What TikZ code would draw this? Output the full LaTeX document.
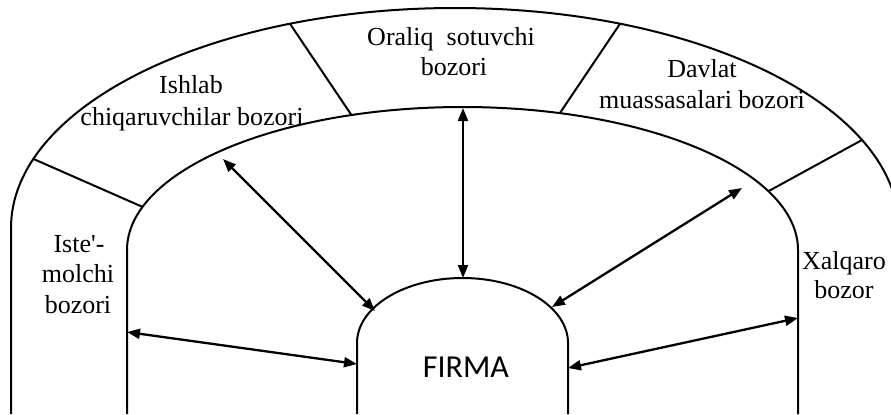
\documentclass[tikz,border=0pt]{standalone}
\usepackage{fontspec}
\setmainfont{Liberation Serif}
\newfontfamily\firmafont{Carlito}
\usetikzlibrary{arrows.meta}
\begin{document}
\begin{tikzpicture}[x=1bp,y=-1bp,
  ring/.style={line width=2bp},
  link/.style={line width=2.3bp,
    {Triangle[length=13bp,width=10bp]}-{Triangle[length=13bp,width=10bp]}},
  lbl/.style={font=\fontsize{26bp}{30bp}\selectfont,inner sep=0pt,anchor=base},
]
\useasboundingbox (0,0) rectangle (891,414);
\clip (0,0) rectangle (891,414);

% outer boundary of the market ring
\draw[ring] (11,414) -- (11,228)
  arc[start angle=180,end angle=0,x radius=444bp,y radius=220bp] -- (899,414);
% inner boundary of the market ring
\draw[ring] (127,414) -- (127,250)
  arc[start angle=180,end angle=0,x radius=335.5bp,y radius=143bp] -- (798,414);
% the firm
\draw[ring] (357,414) -- (357,343)
  arc[start angle=180,end angle=0,x radius=105.5bp,y radius=65bp] -- (568,414);

% sector dividers
\coordinate (d1o) at (33.6,159.0);  \coordinate (d1i) at (142.5,206.9);
\coordinate (d2o) at (290,23.8);    \coordinate (d2i) at (351.5,115.1);
\coordinate (d3o) at (620,23.8);    \coordinate (d3i) at (559.8,113.2);
\coordinate (d4o) at (862,140);     \coordinate (d4i) at (768.4,191.2);
\draw[ring] (d1o) -- (d1i);
\draw[ring] (d2o) -- (d2i);
\draw[ring] (d3o) -- (d3i);
\draw[ring] (d4o) -- (d4i);

% market labels
\node[lbl] (ist1) at (79,252) {Iste\textquotesingle-};
\node[lbl] (ist2) at (78,282) {molchi};
\node[lbl] (ist3) at (78,313) {bozori};
\node[lbl] (ish1) at (191,93) {Ishlab};
\node[lbl] (ish2) at (192,125) {chiqaruvchilar bozori};
\node[lbl] (ora1) at (451,45) {Oraliq\ \ sotuvchi};
\node[lbl] (ora2) at (454,75) {bozori};
\node[lbl] (dav1) at (702,77) {Davlat};
\node[lbl] (dav2) at (702,108) {muassasalari bozori};
\node[lbl] (xal1) at (844,269) {Xalqaro};
\node[lbl] (xal2) at (844,298) {bozor};

% firm label
\node[font=\firmafont\fontsize{32bp}{38bp}\selectfont,inner sep=0pt,anchor=base]
  (firma) at (466,377) {FIRMA};

% connector end points on the ring and on the firm
\coordinate (mW)  at (127,332);  \coordinate (fW)  at (357,364);
\coordinate (mNW) at (223,159);  \coordinate (fNW) at (375,311);
\coordinate (mN)  at (463,108);  \coordinate (fN)  at (463,278);
\coordinate (mNE) at (742,188);  \coordinate (fNE) at (552,307);
\coordinate (mE)  at (798,318);  \coordinate (fE)  at (568,368);

\draw[link] (mW) -- (fW);
\draw[link] (mNW) -- (fNW);
\draw[link] (mN) -- (fN);
\draw[link] (mNE) -- (fNE);
\draw[link] (mE) -- (fE);
\end{tikzpicture}
\end{document}
